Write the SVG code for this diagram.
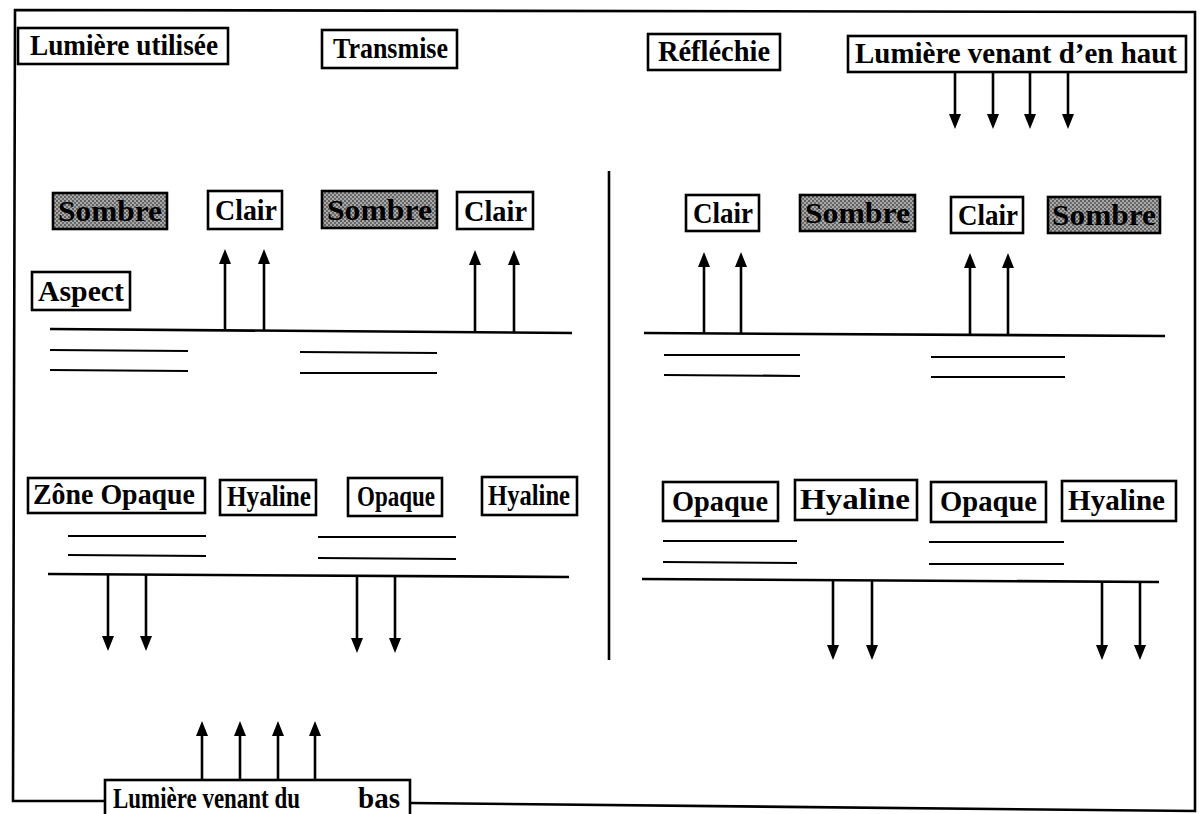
<svg xmlns="http://www.w3.org/2000/svg" width="1204" height="814" viewBox="0 0 1204 814">
<style>
.box{fill:#fff;stroke:#000;stroke-width:2.6}
.shade{fill:url(#chk);stroke:#000;stroke-width:2.6}
.t{font-family:"Liberation Serif","Times New Roman",serif;font-weight:bold;font-size:29px;fill:#000}
.ln{stroke:#000;stroke-width:2.6;fill:none}
.th{stroke:#000;stroke-width:2.2;fill:none}
</style>
<defs>
<pattern id="chk" width="4" height="4" patternUnits="userSpaceOnUse">
<rect width="4" height="4" fill="#a8a8a8"/>
<rect width="2" height="2" fill="#606060"/>
<rect x="2" y="2" width="2" height="2" fill="#6a6a6a"/>
</pattern>
</defs>
<rect width="1204" height="814" fill="#fff"/>

<g id="frame">
<polyline class="ln" points="105,801 13,801 15,10 1195,12 1195,811 410,803"/>
<line class="ln" x1="609" y1="171" x2="609" y2="660"/>
</g>

<g id="connectors">
<line class="ln" x1="955" y1="73" x2="955" y2="116"/><path d="M949,114 L961,114 L955,129 Z"/>
<line class="ln" x1="993" y1="73" x2="993" y2="116"/><path d="M987,114 L999,114 L993,129 Z"/>
<line class="ln" x1="1030" y1="73" x2="1030" y2="116"/><path d="M1024,114 L1036,114 L1030,129 Z"/>
<line class="ln" x1="1068" y1="73" x2="1068" y2="116"/><path d="M1062,114 L1074,114 L1068,129 Z"/>
<line class="ln" x1="50" y1="329" x2="572" y2="333"/>
<line class="th" x1="50" y1="350" x2="188" y2="351"/>
<line class="th" x1="50" y1="370" x2="188" y2="371"/>
<line class="th" x1="300" y1="352" x2="437" y2="353"/>
<line class="th" x1="300" y1="373" x2="437" y2="373"/>
<line class="ln" x1="225" y1="330" x2="225" y2="262"/><path d="M219,264 L231,264 L225,249 Z"/>
<line class="ln" x1="264" y1="330" x2="264" y2="262"/><path d="M258,264 L270,264 L264,249 Z"/>
<line class="ln" x1="475" y1="332" x2="475" y2="263"/><path d="M469,265 L481,265 L475,250 Z"/>
<line class="ln" x1="514" y1="332" x2="514" y2="263"/><path d="M508,265 L520,265 L514,250 Z"/>
<line class="ln" x1="644" y1="333" x2="1165" y2="336"/>
<line class="th" x1="664" y1="355" x2="800" y2="355"/>
<line class="th" x1="664" y1="375" x2="800" y2="376"/>
<line class="th" x1="931" y1="357" x2="1065" y2="357"/>
<line class="th" x1="931" y1="377" x2="1065" y2="377"/>
<line class="ln" x1="704" y1="333" x2="704" y2="265"/><path d="M698,267 L710,267 L704,252 Z"/>
<line class="ln" x1="741" y1="333" x2="741" y2="265"/><path d="M735,267 L747,267 L741,252 Z"/>
<line class="ln" x1="970" y1="335" x2="970" y2="266"/><path d="M964,268 L976,268 L970,253 Z"/>
<line class="ln" x1="1008" y1="335" x2="1008" y2="266"/><path d="M1002,268 L1014,268 L1008,253 Z"/>
<line class="th" x1="68" y1="536" x2="206" y2="536"/>
<line class="th" x1="68" y1="555" x2="206" y2="556"/>
<line class="th" x1="318" y1="537" x2="456" y2="537"/>
<line class="th" x1="318" y1="558" x2="456" y2="559"/>
<line class="ln" x1="48" y1="574" x2="569" y2="577"/>
<line class="ln" x1="108" y1="575" x2="108" y2="638"/><path d="M102,636 L114,636 L108,651 Z"/>
<line class="ln" x1="146" y1="575" x2="146" y2="638"/><path d="M140,636 L152,636 L146,651 Z"/>
<line class="ln" x1="357" y1="577" x2="357" y2="640"/><path d="M351,638 L363,638 L357,653 Z"/>
<line class="ln" x1="395" y1="577" x2="395" y2="640"/><path d="M389,638 L401,638 L395,653 Z"/>
<line class="th" x1="663" y1="541" x2="797" y2="541"/>
<line class="th" x1="663" y1="562" x2="797" y2="563"/>
<line class="th" x1="929" y1="542" x2="1064" y2="542"/>
<line class="th" x1="929" y1="564" x2="1064" y2="564"/>
<line class="ln" x1="642" y1="579" x2="1159" y2="582"/>
<line class="ln" x1="833" y1="581" x2="833" y2="647"/><path d="M827,645 L839,645 L833,660 Z"/>
<line class="ln" x1="872" y1="581" x2="872" y2="647"/><path d="M866,645 L878,645 L872,660 Z"/>
<line class="ln" x1="1102" y1="582" x2="1102" y2="647"/><path d="M1096,645 L1108,645 L1102,660 Z"/>
<line class="ln" x1="1140" y1="582" x2="1140" y2="647"/><path d="M1134,645 L1146,645 L1140,660 Z"/>
<line class="ln" x1="202" y1="781" x2="202" y2="734"/><path d="M196,736 L208,736 L202,721 Z"/>
<line class="ln" x1="240" y1="781" x2="240" y2="734"/><path d="M234,736 L246,736 L240,721 Z"/>
<line class="ln" x1="278" y1="781" x2="278" y2="734"/><path d="M272,736 L284,736 L278,721 Z"/>
<line class="ln" x1="315" y1="781" x2="315" y2="734"/><path d="M309,736 L321,736 L315,721 Z"/>
</g>

<g id="n-lumiere-utilisee"><rect class="box" x="18" y="28" width="210" height="36"/><text class="t" x="30" y="55" textLength="188" lengthAdjust="spacingAndGlyphs">Lumière utilisée</text></g>
<g id="n-transmise"><rect class="box" x="322" y="30" width="135" height="38"/><text class="t" x="333" y="58" textLength="115" lengthAdjust="spacingAndGlyphs">Transmise</text></g>
<g id="n-reflechie"><rect class="box" x="648" y="34" width="132" height="36"/><text class="t" x="658" y="61" textLength="112" lengthAdjust="spacingAndGlyphs">Réfléchie</text></g>
<g id="n-haut"><rect class="box" x="848" y="36" width="338" height="36"/><text class="t" x="855" y="63" textLength="322" lengthAdjust="spacingAndGlyphs">Lumière venant d’en haut</text></g>

<g id="n-sombre1"><rect class="shade" x="53" y="193" width="114" height="36"/><text class="t" x="58" y="221" textLength="104" lengthAdjust="spacingAndGlyphs">Sombre</text></g>
<g id="n-clair1"><rect class="box" x="208" y="191" width="74" height="38"/><text class="t" x="215" y="220" textLength="62" lengthAdjust="spacingAndGlyphs">Clair</text></g>
<g id="n-sombre2"><rect class="shade" x="322" y="191" width="115" height="37"/><text class="t" x="327" y="220" textLength="105" lengthAdjust="spacingAndGlyphs">Sombre</text></g>
<g id="n-clair2"><rect class="box" x="457" y="192" width="76" height="37"/><text class="t" x="464" y="221" textLength="63" lengthAdjust="spacingAndGlyphs">Clair</text></g>
<g id="n-clair3"><rect class="box" x="686" y="195" width="73" height="36"/><text class="t" x="693" y="223" textLength="60" lengthAdjust="spacingAndGlyphs">Clair</text></g>
<g id="n-sombre3"><rect class="shade" x="800" y="195" width="115" height="36"/><text class="t" x="805" y="223" textLength="105" lengthAdjust="spacingAndGlyphs">Sombre</text></g>
<g id="n-clair4"><rect class="box" x="951" y="197" width="72" height="36"/><text class="t" x="958" y="225" textLength="60" lengthAdjust="spacingAndGlyphs">Clair</text></g>
<g id="n-sombre4"><rect class="shade" x="1048" y="197" width="112" height="36"/><text class="t" x="1052" y="225" textLength="104" lengthAdjust="spacingAndGlyphs">Sombre</text></g>

<g id="n-aspect"><rect class="box" x="32" y="272" width="98" height="38"/><text class="t" x="38" y="301" textLength="86" lengthAdjust="spacingAndGlyphs">Aspect</text></g>

<g id="n-zone-opaque"><rect class="box" x="28" y="478" width="177" height="35"/><text class="t" x="33" y="504" textLength="162" lengthAdjust="spacingAndGlyphs">Zône Opaque</text></g>
<g id="n-hyaline1"><rect class="box" x="220" y="480" width="96" height="35"/><text class="t" x="227" y="506" textLength="84" lengthAdjust="spacingAndGlyphs">Hyaline</text></g>
<g id="n-opaque1"><rect class="box" x="348" y="478" width="94" height="38"/><text class="t" x="357" y="506" textLength="78" lengthAdjust="spacingAndGlyphs">Opaque</text></g>
<g id="n-hyaline2"><rect class="box" x="482" y="477" width="95" height="38"/><text class="t" x="488" y="505" textLength="82" lengthAdjust="spacingAndGlyphs">Hyaline</text></g>
<g id="n-opaque2"><rect class="box" x="663" y="482" width="115" height="39"/><text class="t" x="672" y="511" textLength="96" lengthAdjust="spacingAndGlyphs">Opaque</text></g>
<g id="n-hyaline3"><rect class="box" x="795" y="480" width="122" height="40"/><text class="t" x="800" y="509" textLength="110" lengthAdjust="spacingAndGlyphs">Hyaline</text></g>
<g id="n-opaque3"><rect class="box" x="931" y="482" width="115" height="40"/><text class="t" x="940" y="511" textLength="97" lengthAdjust="spacingAndGlyphs">Opaque</text></g>
<g id="n-hyaline4"><rect class="box" x="1062" y="481" width="114" height="40"/><text class="t" x="1068" y="510" textLength="97" lengthAdjust="spacingAndGlyphs">Hyaline</text></g>

<g id="n-bas"><rect class="box" x="105" y="780" width="305" height="40"/><text class="t" x="113" y="808" textLength="187" lengthAdjust="spacingAndGlyphs">Lumière venant du</text><text class="t" x="358" y="808" textLength="42" lengthAdjust="spacingAndGlyphs">bas</text></g>
</svg>
